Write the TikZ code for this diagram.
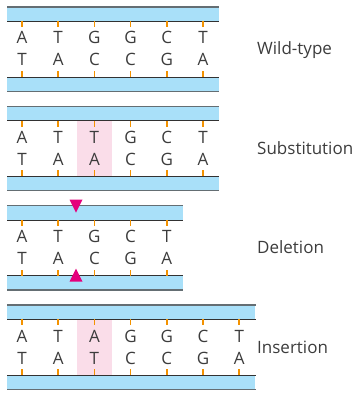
\documentclass[tikz,border=0pt]{standalone}
\usepackage{fontspec}
\setmainfont{Open Sans}
\usetikzlibrary{positioning}
\definecolor{barBlue}{RGB}{169,224,249}
\definecolor{edgeDark}{RGB}{50,50,50}
\definecolor{edgeGray}{RGB}{100,110,115}
\definecolor{tickOrange}{RGB}{243,146,0}
\definecolor{mutPink}{RGB}{250,221,233}
\definecolor{markMagenta}{RGB}{228,0,124}
\definecolor{baseText}{RGB}{60,60,60}

\begin{document}
\begin{tikzpicture}[x=1pt, y=-1pt,
    nucleo/.style={font=\fontsize{17}{19}\selectfont, text=baseText,
        inner sep=0pt, text height=12pt, text depth=0pt},
    caption/.style={nucleo, anchor=west},
    bar/.style={fill=barBlue, inner sep=0pt, minimum height=14pt,
        anchor=north west},
    outeredge/.style={edgeGray, line width=1.3pt},
    inneredge/.style={edgeDark, line width=1pt},
    hbond/.style={tickOrange, line width=1.5pt},
    mutmark/.style={fill=markMagenta}]
    \useasboundingbox (0,0) rectangle (356,396);
    % mutated base pairs
    \fill[mutPink] (76.9,120.3) rectangle (111.9,176.3);
    \fill[mutPink] (76.9,319) rectangle (111.9,375);
    \foreach \pan/\yy/\n/\lab/\seq in {
        wt/7/6/Wild-type/{A/T,T/A,G/C,G/C,C/G,T/A},
        sub/106.3/6/Substitution/{A/T,T/A,T/A,G/C,C/G,T/A},
        del/205.6/5/Deletion/{A/T,T/A,G/C,C/G,T/A},
        ins/305/7/Insertion/{A/T,T/A,A/T,G/C,G/C,C/G,T/A}}{
        \pgfmathsetmacro{\barlen}{36.2*(\n-1)+31}
        \node[bar, minimum width=\barlen pt] (\pan-top) at (7,\yy) {};
        \node[bar, minimum width=\barlen pt] (\pan-bot) at (7,{\yy+70}) {};
        \draw[outeredge] (\pan-top.north west) -- (\pan-top.north east);
        \draw[inneredge] (\pan-top.south west) -- (\pan-top.south east);
        \draw[inneredge] (\pan-bot.north west) -- (\pan-bot.north east);
        \draw[outeredge] (\pan-bot.south west) -- (\pan-bot.south east);
        \foreach \upb/\dnb [count=\i] in \seq {
            \pgfmathsetmacro{\xx}{22+36.2*(\i-1)}
            \node[nucleo] (\pan-t\i) at (\xx,{\yy+31}) {\upb};
            \node[nucleo] (\pan-b\i) at (\xx,{\yy+53}) {\dnb};
            \draw[hbond] (\pan-t\i |- \pan-top.south) -- ++(0,6);
            \draw[hbond] (\pan-b\i |- \pan-bot.north) -- ++(0,-6);
        }
        \node[caption] (\pan-lab) at (257,{\yy+42}) {\lab};
    }
    % deleted base pair
    \fill[mutmark] (69.5,199.6) -- (82.5,199.6) -- (76,212.6) -- cycle;
    \fill[mutmark] (69.5,281.6) -- (82.5,281.6) -- (76,268.6) -- cycle;
\end{tikzpicture}
\end{document}
